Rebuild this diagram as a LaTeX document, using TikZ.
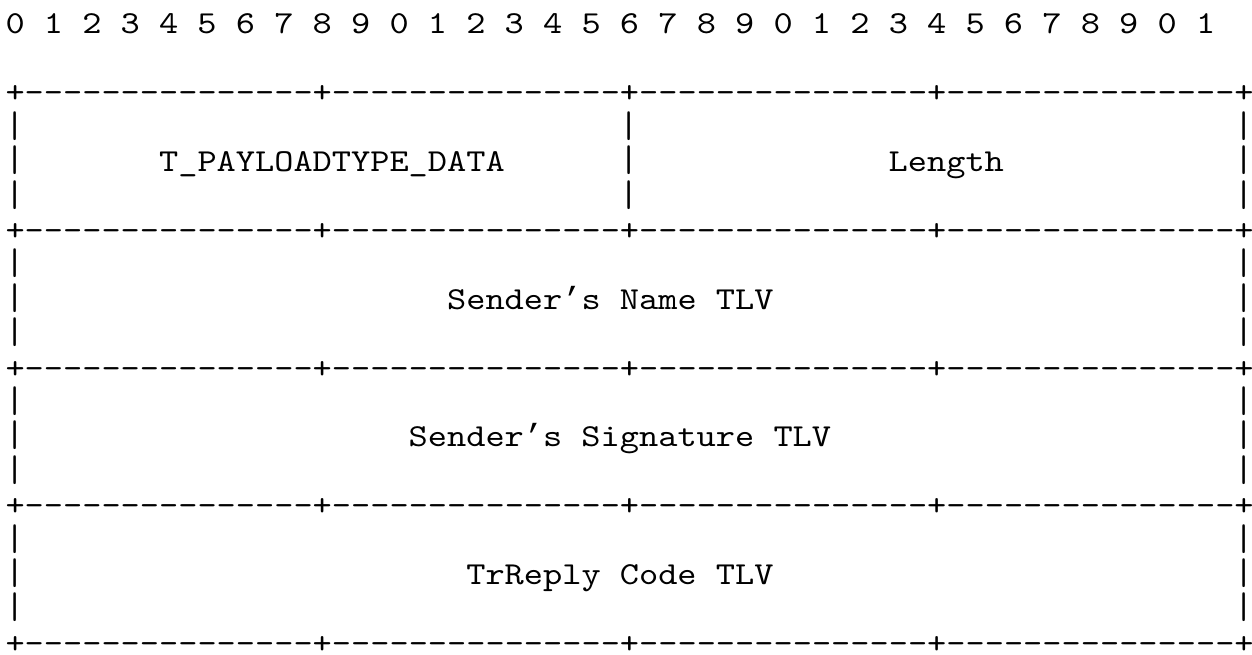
\documentclass[tikz,border=0pt]{standalone}
\usepackage{fontspec}
\setmonofont{lmmono10-regular.otf}[FakeStretch=1.143]
\newfontfamily\apfont{Liberation Mono}
\newcommand\myapos{{\apfont ’}}
\newcommand\mybar{\vphantom{|}\smash{\scalebox{1}[1.16]{|}}}
\tikzset{
  ch/.style={inner sep=0pt, outer sep=0pt, anchor=base west,
    font=\ttfamily\fontsize{32}{34.5}\selectfont, text=black},
}
\begin{document}
\begin{tikzpicture}[x=1pt,y=1pt]
\useasboundingbox[fill=white] (0,0) rectangle (1252,-655);
% column c, line l  ->  ({5.5+19.2*c}, {-34-34.4*l})
\node[ch] (digits) at ({5.5+19.2*0},{-34-34.4*0}) {0 1 2 3 4 5 6 7 8 9 0 1 2 3 4 5 6 7 8 9 0 1 2 3 4 5 6 7 8 9 0 1};
% border rows
\foreach \l/\n in {2/b0,6/b1,10/b2,14/b3,18/b4}
  \node[ch] (\n) at ({5.5},{-34-34.4*\l}) {+---------------+---------------+---------------+---------------+};
% pipes of the first row (with middle divider)
\foreach \l in {3,4,5}
  \foreach \c in {0,32,64}
    \node[ch] (p-\l-\c) at ({5.5+19.2*\c},{-34-34.4*\l}) {\mybar};
% pipes of the full-width rows
\foreach \l in {7,8,9,11,12,13,15,16,17}
  \foreach \c in {0,64}
    \node[ch] (p-\l-\c) at ({5.5+19.2*\c},{-34-34.4*\l}) {\mybar};
% labels
\node[ch] (ptype) at ({5.5+19.2*8},{-34-34.4*4}) {T\_PAYLOADTYPE\_DATA};
\node[ch] (len) at ({5.5+19.2*46},{-34-34.4*4}) {Length};
\node[ch] (sname) at ({5.5+19.2*23},{-34-34.4*8}) {Sender\myapos s Name TLV};
\node[ch] (ssig) at ({5.5+19.2*21},{-34-34.4*12}) {Sender\myapos s Signature TLV};
\node[ch] (trc) at ({5.5+19.2*24},{-34-34.4*16}) {TrReply Code TLV};
\end{tikzpicture}
\end{document}
